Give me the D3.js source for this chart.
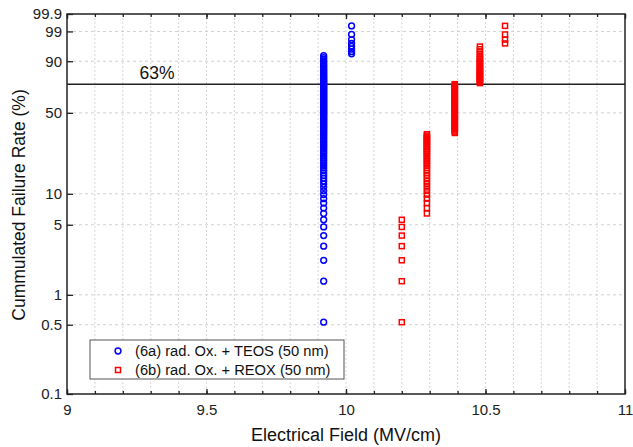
<!DOCTYPE html>
<html>
<head>
<meta charset="utf-8">
<script src="https://cdn.jsdelivr.net/npm/d3@7"></script>
<style>
  body { margin: 0; background: #fff; }
  text { font-family: Arial, "Liberation Sans", sans-serif; }
</style>
</head>
<body>
<div id="svgRoot"></div>
<script>
// cumulative failure rate (%) of each rank (118 samples per series)
var failRate = [
  0.53, 1.37, 2.22, 3.07, 3.91, 4.76, 5.60, 6.45, 7.29, 8.14,
  8.99, 9.83, 10.68, 11.52, 12.37, 13.21, 14.06, 14.90, 15.75, 16.60,
  17.44, 18.29, 19.13, 19.98, 20.82, 21.67, 22.52, 23.36, 24.21, 25.05,
  25.90, 26.74, 27.59, 28.44, 29.28, 30.13, 30.97, 31.82, 32.66, 33.51,
  34.36, 35.20, 36.05, 36.89, 37.74, 38.58, 39.43, 40.28, 41.12, 41.97,
  42.81, 43.66, 44.50, 45.35, 46.19, 47.04, 47.89, 48.73, 49.58, 50.42,
  51.27, 52.11, 52.96, 53.81, 54.65, 55.50, 56.34, 57.19, 58.03, 58.88,
  59.73, 60.57, 61.42, 62.26, 63.11, 63.95, 64.80, 65.64, 66.49, 67.34,
  68.18, 69.03, 69.87, 70.72, 71.56, 72.41, 73.26, 74.10, 74.95, 75.79,
  76.64, 77.48, 78.33, 79.18, 80.02, 80.87, 81.71, 82.56, 83.40, 84.25,
  85.10, 85.94, 86.79, 87.63, 88.48, 89.32, 90.17, 91.01, 91.86, 92.71,
  93.55, 94.40, 95.24, 96.09, 96.93, 97.78, 98.63, 99.47
];

// breakdown field of each column and how many samples sit in it
var teosField = [9.92, 10.02];
var teosCount = [110, 8];
var reoxField = [10.2, 10.29, 10.39, 10.48, 10.57];
var reoxCount = [7, 34, 47, 26, 4];

var seriesNames = ["(6a) rad. Ox. + TEOS (50 nm)", "(6b) rad. Ox. + REOX (50 nm)"];

var xTickLabels = [9, 9.5, 10, 10.5, 11];
var yTickVals = [0.1, 0.5, 1, 5, 10, 50, 90, 99, 99.9];
var yTickLabels = ["0.1", "0.5", "1", "5", "10", "50", "90", "99", "99.9"];

var refLine = 74; // where the horizontal line is drawn (%)
var refLabel = "63%";

// weibull transform of a failure rate in %
function wb(p) {
  return Math.log(-Math.log(1 - p / 100));
}

// give each rank its column field
function buildPoints(fields, counts) {
  var pts = [], k = 0;
  fields.forEach(function (f, j) {
    for (var n = 0; n < counts[j]; n++) {
      pts.push({ field: f, rate: failRate[k] });
      k++;
    }
  });
  return pts;
}

var teosPts = buildPoints(teosField, teosCount);
var reoxPts = buildPoints(reoxField, reoxCount);

var margin = { top: 14, right: 8, bottom: 53, left: 67 },
  width = 633 - margin.left - margin.right,
  height = 447 - margin.top - margin.bottom;

var svg = d3
  .select("#svgRoot")
  .append("svg")
  .attr("width", 633)
  .attr("height", 447)
  .append("g")
  .attr("transform", "translate(" + margin.left + "," + margin.top + ")");

var x = d3.scaleLinear().domain([9, 11]).range([0, width]);
var y = d3.scaleLinear().domain([wb(0.1), wb(99.9)]).range([height, 0]);

// grid
svg
  .append("g")
  .selectAll("line")
  .data(x.ticks(20).slice(1, -1))
  .enter()
  .append("line")
  .attr("x1", function (d) { return x(d); })
  .attr("x2", function (d) { return x(d); })
  .attr("y1", 0)
  .attr("y2", height)
  .attr("stroke", "#d6d6d6")
  .attr("stroke-dasharray", "2,2");

svg
  .append("g")
  .selectAll("line")
  .data(yTickVals.slice(1, -1))
  .enter()
  .append("line")
  .attr("x1", 0)
  .attr("x2", width)
  .attr("y1", function (d) { return y(wb(d)); })
  .attr("y2", function (d) { return y(wb(d)); })
  .attr("stroke", "#d0d0d0")
  .attr("stroke-dasharray", "3,3");

// axes, ticks pointing inside
function styleAxis(g) {
  g.select(".domain").remove();
  g.selectAll(".tick line").attr("stroke", "#222").attr("stroke-width", 1.3);
  g.selectAll("text").style("font-size", "15px").attr("fill", "#222");
}

svg
  .append("g")
  .attr("transform", "translate(0," + height + ")")
  .call(d3.axisBottom(x).ticks(20).tickSize(-3).tickSizeOuter(0).tickFormat(""))
  .call(styleAxis);

svg
  .append("g")
  .attr("transform", "translate(0," + height + ")")
  .call(d3.axisBottom(x).tickValues(xTickLabels).tickSize(-5).tickSizeOuter(0).tickPadding(10).tickFormat(d3.format("")))
  .call(styleAxis);

svg
  .append("g")
  .call(d3.axisTop(x).ticks(20).tickSize(-3).tickSizeOuter(0).tickFormat(""))
  .call(styleAxis);

svg
  .append("g")
  .call(d3.axisTop(x).tickValues(xTickLabels).tickSize(-5).tickSizeOuter(0).tickFormat(""))
  .call(styleAxis);

svg
  .append("g")
  .call(
    d3.axisLeft(y)
      .tickValues(yTickVals.map(wb))
      .tickSize(-6)
      .tickSizeOuter(0)
      .tickPadding(5)
      .tickFormat(function (d, i) { return yTickLabels[i]; })
  )
  .call(styleAxis);

// frame
svg
  .append("rect")
  .attr("width", width)
  .attr("height", height)
  .attr("fill", "none")
  .attr("stroke", "#222")
  .attr("stroke-width", 1.5);

// reference line
svg
  .append("line")
  .attr("x1", 0)
  .attr("x2", width)
  .attr("y1", y(wb(refLine)))
  .attr("y2", y(wb(refLine)))
  .attr("stroke", "#222")
  .attr("stroke-width", 1.4);

svg
  .append("text")
  .text(refLabel)
  .attr("x", x(9.26))
  .attr("y", y(wb(refLine)) - 5)
  .style("font-size", "17.5px")
  .attr("fill", "#111");

// points
svg
  .append("g")
  .selectAll("circle")
  .data(teosPts)
  .enter()
  .append("circle")
  .attr("cx", function (d) { return x(d.field); })
  .attr("cy", function (d) { return y(wb(d.rate)); })
  .attr("r", 2.9)
  .attr("fill", "none")
  .attr("stroke", "#0000ff")
  .attr("stroke-width", 1.5);

svg
  .append("g")
  .selectAll("rect")
  .data(reoxPts)
  .enter()
  .append("rect")
  .attr("x", function (d) { return x(d.field) - 2.5; })
  .attr("y", function (d) { return y(wb(d.rate)) - 2.5; })
  .attr("width", 5)
  .attr("height", 5)
  .attr("fill", "none")
  .attr("stroke", "#ff0000")
  .attr("stroke-width", 1.5);

// legend
var leg = svg.append("g").attr("transform", "translate(" + (90 - margin.left) + "," + (340 - margin.top) + ")");

leg
  .append("rect")
  .attr("width", 254)
  .attr("height", 39)
  .attr("fill", "#fff")
  .attr("stroke", "#555")
  .attr("stroke-width", 1);

leg
  .append("circle")
  .attr("cx", 28)
  .attr("cy", 11)
  .attr("r", 2.9)
  .attr("fill", "none")
  .attr("stroke", "#0000ff")
  .attr("stroke-width", 1.5);

leg
  .append("rect")
  .attr("x", 25.5)
  .attr("y", 27.5)
  .attr("width", 5)
  .attr("height", 5)
  .attr("fill", "none")
  .attr("stroke", "#ff0000")
  .attr("stroke-width", 1.5);

leg
  .selectAll("legText")
  .data(seriesNames)
  .enter()
  .append("text")
  .text(function (d) { return d; })
  .attr("x", 45)
  .attr("y", function (d, i) { return 16 + i * 19; })
  .style("font-size", "14.7px")
  .attr("fill", "#111");

// axis titles
svg
  .append("text")
  .text("Electrical Field (MV/cm)")
  .attr("text-anchor", "middle")
  .attr("x", width / 2)
  .attr("y", height + 47)
  .style("font-size", "18px")
  .attr("fill", "#111");

svg
  .append("text")
  .text("Cummulated Failure Rate (%)")
  .attr("text-anchor", "middle")
  .attr("transform", "rotate(-90)")
  .attr("x", -(205 - margin.top))
  .attr("y", 25 - margin.left)
  .style("font-size", "17.5px")
  .attr("fill", "#111");
</script>
</body>
</html>
